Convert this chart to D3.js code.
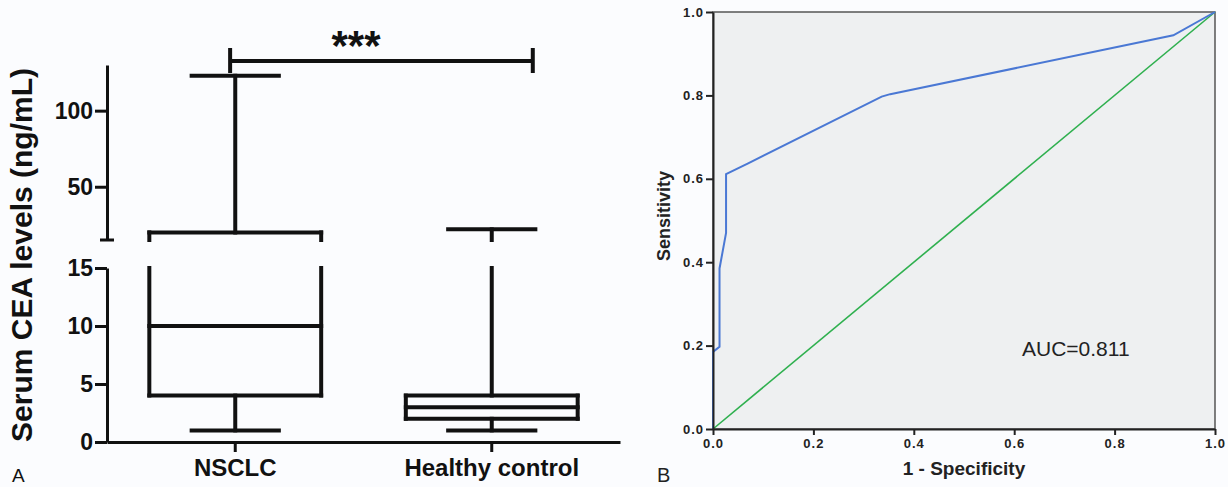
<!DOCTYPE html>
<html>
<head>
<meta charset="utf-8">
<script src="https://cdn.jsdelivr.net/npm/d3@7"></script>
<style>
  body { margin: 0; background: #fbfcfe; }
  svg { display: block; font-family: Arial, "Liberation Sans", sans-serif; }
</style>
</head>
<body>
<div class="chart"></div>
<script>
// panel A - serum CEA box plot (ng/mL)
const groups = ["NSCLC", "Healthy control"];
const whiskerLow = [1, 1];
const q1 = [4, 2];
const median = [10, 3];
const q3 = [20, 4];
const whiskerHigh = [123, 22];
const lowTicks = [0, 5, 10, 15];
const highTicks = [50, 100];

// panel B - ROC curve
const rocFpr = [0, 0, 0.013, 0.013, 0.026, 0.026, 0.07, 0.336, 0.353, 0.917, 1];
const rocTpr = [0, 0.185, 0.197, 0.385, 0.47, 0.611, 0.637, 0.797, 0.803, 0.944, 1];
const rocTicks = [0, 0.2, 0.4, 0.6, 0.8, 1.0];
const aucLabel = "AUC=0.811";

const svg = d3
  .select(".chart")
  .append("svg")
  .attr("width", 1228)
  .attr("height", 487);

// ---------- panel A ----------
const x = d3.scaleBand().domain(groups).range([107, 620]);
const bw = x.bandwidth();
const yLow = d3.scaleLinear().domain([0, 15]).range([442, 268]);
const yHigh = d3.scaleLinear().domain([15, 130]).range([240, 65]);
const segments = [yLow, yHigh];

const yOf = v => (v <= 15 ? yLow(v) : yHigh(v));

const a = svg.append("g");

// vertical line across the broken axis
function vline(g, cx, v0, v1) {
  segments.forEach(s => {
    const [lo, hi] = s.domain();
    const from = Math.max(v0, lo),
      to = Math.min(v1, hi);
    if (from < to) {
      g.append("line")
        .attr("x1", cx).attr("x2", cx)
        .attr("y1", s(from)).attr("y2", s(to));
    }
  });
}
function hline(g, x1, x2, v) {
  g.append("line")
    .attr("x1", x1).attr("x2", x2)
    .attr("y1", yOf(v)).attr("y2", yOf(v));
}

groups.forEach((name, i) => {
  const g = a.append("g")
    .attr("stroke", "#111")
    .attr("stroke-width", 4)
    .attr("stroke-linecap", "square");
  const cx = x(name) + bw / 2;
  const left = cx - bw * 0.335,
    right = cx + bw * 0.335;
  const capL = cx - bw * 0.17,
    capR = cx + bw * 0.17;
  // box
  vline(g, left, q1[i], q3[i]);
  vline(g, right, q1[i], q3[i]);
  hline(g, left, right, q1[i]);
  hline(g, left, right, median[i]);
  hline(g, left, right, q3[i]);
  // whiskers
  vline(g, cx, whiskerLow[i], q1[i]);
  vline(g, cx, q3[i], whiskerHigh[i]);
  hline(g, capL, capR, whiskerLow[i]);
  hline(g, capL, capR, whiskerHigh[i]);
});

function styleAxis(g, size) {
  g.selectAll("path, line").attr("stroke", "#111").attr("stroke-width", 3);
  g.selectAll("text")
    .attr("fill", "#111")
    .style("font-size", size + "px")
    .style("font-weight", "bold");
}

const axLow = a.append("g")
  .attr("transform", "translate(107,0)")
  .call(d3.axisLeft(yLow).tickValues(lowTicks).tickSize(12).tickSizeOuter(0).tickPadding(2));
styleAxis(axLow, 23);

const axHigh = a.append("g")
  .attr("transform", "translate(107,0)")
  .call(d3.axisLeft(yHigh).tickValues(highTicks).tickSize(12).tickSizeOuter(0).tickPadding(2));
styleAxis(axHigh, 23);

// break cap at bottom of the upper segment
a.append("line")
  .attr("x1", 100).attr("x2", 114)
  .attr("y1", yHigh(15)).attr("y2", yHigh(15))
  .attr("stroke", "#111").attr("stroke-width", 3);

const axX = a.append("g")
  .attr("transform", "translate(0,442)")
  .call(d3.axisBottom(x).tickSize(10).tickSizeOuter(0).tickPadding(7));
styleAxis(axX, 24);

a.append("text")
  .attr("transform", "translate(32,255) rotate(-90)")
  .attr("text-anchor", "middle")
  .attr("fill", "#111")
  .style("font-size", "30px")
  .style("font-weight", "bold")
  .text("Serum CEA levels (ng/mL)");

// significance bracket
const bx1 = x(groups[0]) + bw * 0.48,
  bx2 = x(groups[1]) + bw * 0.66;
const bracket = a.append("g").attr("stroke", "#111").attr("stroke-width", 4);
bracket.append("line").attr("x1", bx1).attr("x2", bx2).attr("y1", 61).attr("y2", 61);
bracket.append("line").attr("x1", bx1).attr("x2", bx1).attr("y1", 48).attr("y2", 73);
bracket.append("line").attr("x1", bx2).attr("x2", bx2).attr("y1", 48).attr("y2", 73);
a.append("text")
  .attr("x", 356).attr("y", 60)
  .attr("text-anchor", "middle")
  .attr("fill", "#111")
  .style("font-size", "42px")
  .style("font-weight", "bold")
  .text("***");

a.append("text")
  .attr("x", 12).attr("y", 482)
  .attr("fill", "#111")
  .style("font-size", "19px")
  .text("A");

// ---------- panel B ----------
const rx = d3.scaleLinear().domain([0, 1]).range([713, 1215]);
const ry = d3.scaleLinear().domain([0, 1]).range([429, 12]);
const b = svg.append("g");

b.append("rect")
  .attr("x", rx(0)).attr("y", ry(1))
  .attr("width", rx(1) - rx(0)).attr("height", ry(0) - ry(1))
  .attr("fill", "#eef0f1")
  .attr("stroke", "#555")
  .attr("stroke-width", 1.5);

b.append("line")
  .attr("x1", rx(0)).attr("y1", ry(0))
  .attr("x2", rx(1)).attr("y2", ry(1))
  .attr("stroke", "#2fb04f")
  .attr("stroke-width", 1.6);

const line = d3.line().x(d => rx(d[0])).y(d => ry(d[1]));
b.append("path")
  .datum(rocFpr.map((f, i) => [f, rocTpr[i]]))
  .attr("d", line)
  .attr("fill", "none")
  .attr("stroke", "#4a78d4")
  .attr("stroke-width", 2);

function styleRoc(g) {
  g.selectAll("path, line").attr("stroke", "#222").attr("stroke-width", 2);
  g.selectAll("text")
    .attr("fill", "#222")
    .style("font-size", "13px")
    .style("font-weight", "bold")
    .style("letter-spacing", "1px");
}
const fmt = d3.format(".1f");
const bxAxis = b.append("g")
  .attr("transform", "translate(0," + ry(0) + ")")
  .call(d3.axisBottom(rx).tickValues(rocTicks).tickFormat(fmt).tickSize(6).tickSizeOuter(0).tickPadding(4));
styleRoc(bxAxis);
const byAxis = b.append("g")
  .attr("transform", "translate(" + rx(0) + ",0)")
  .call(d3.axisLeft(ry).tickValues(rocTicks).tickFormat(fmt).tickSize(7).tickSizeOuter(0).tickPadding(2));
styleRoc(byAxis);

b.append("text")
  .attr("transform", "translate(670,216) rotate(-90)")
  .attr("text-anchor", "middle")
  .attr("fill", "#222")
  .style("font-size", "18px")
  .style("font-weight", "bold")
  .text("Sensitivity");

b.append("text")
  .attr("x", 964).attr("y", 475)
  .attr("text-anchor", "middle")
  .attr("fill", "#222")
  .style("font-size", "19px")
  .style("font-weight", "bold")
  .text("1 - Specificity");

b.append("text")
  .attr("x", 1022).attr("y", 356)
  .attr("fill", "#222")
  .style("font-size", "21px")
  .text(aucLabel);

b.append("text")
  .attr("x", 657).attr("y", 482)
  .attr("fill", "#222")
  .style("font-size", "20px")
  .text("B");
</script>
</body>
</html>
